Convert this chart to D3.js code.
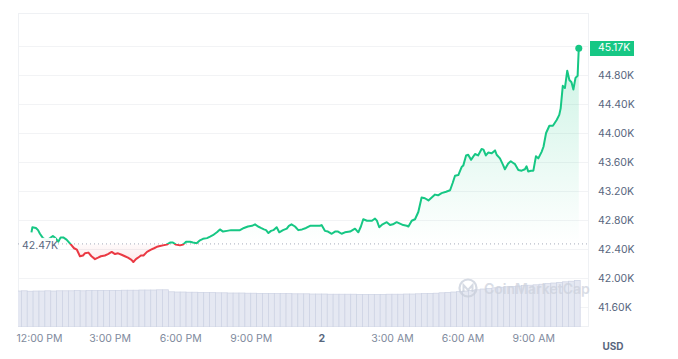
<!DOCTYPE html>
<html>
<head>
<meta charset="utf-8">
<script src="https://cdn.jsdelivr.net/npm/d3@7/dist/d3.min.js"></script>
<style>
  html, body { margin: 0; padding: 0; background: #fff; }
  svg { display: block; font-family: Inter, "Noto Sans", sans-serif; }
</style>
</head>
<body>
<svg id="chart" width="678" height="359"></svg>
<script>
// ---- DATA (hours after 12:00 PM, Jan 1 2024; price in thousands USD) ----
const hours = [-0.32,-0.28,-0.13,-0.04,0.04,0.17,0.34,0.47,0.59,0.70,0.82,0.92,1.03,1.17,1.36,1.49,1.61,1.74,1.87,1.95,2.10,2.23,2.38,2.51,2.63,2.80,2.93,3.09,3.23,3.36,3.51,3.65,3.78,3.93,4.01,4.12,4.21,4.33,4.44,4.59,4.76,4.89,5.01,5.14,5.27,5.43,5.57,5.69,5.82,5.99,6.12,6.25,6.42,6.54,6.70,6.84,6.97,7.14,7.27,7.39,7.56,7.69,7.82,7.99,8.16,8.37,8.54,8.71,8.88,9.05,9.18,9.31,9.43,9.56,9.65,9.75,9.86,9.96,10.10,10.21,10.37,10.53,10.62,10.73,10.88,11.02,11.18,11.35,11.52,11.73,11.94,12.01,12.15,12.28,12.44,12.58,12.71,12.86,13.00,13.22,13.43,13.57,13.68,13.78,13.94,14.15,14.28,14.36,14.46,14.60,14.78,14.92,15.04,15.20,15.34,15.48,15.63,15.70,15.84,15.98,16.12,16.26,16.40,16.55,16.69,16.83,16.96,17.11,17.30,17.47,17.58,17.68,17.82,17.96,18.03,18.15,18.24,18.36,18.53,18.66,18.81,18.89,18.99,19.09,19.24,19.38,19.45,19.59,19.72,19.80,19.94,20.05,20.14,20.23,20.37,20.51,20.65,20.72,20.79,20.91,21.01,21.12,21.22,21.36,21.44,21.55,21.69,21.84,22.00,22.11,22.17,22.26,22.35,22.45,22.54,22.63,22.71,22.80,22.89,22.94];
const prices = [42.63,42.70,42.69,42.66,42.61,42.55,42.52,42.55,42.58,42.55,42.50,42.56,42.56,42.53,42.46,42.41,42.39,42.30,42.31,42.34,42.35,42.30,42.26,42.28,42.30,42.31,42.33,42.36,42.33,42.34,42.32,42.30,42.28,42.25,42.22,42.26,42.28,42.31,42.31,42.36,42.39,42.41,42.43,42.44,42.45,42.46,42.49,42.49,42.46,42.45,42.46,42.50,42.50,42.49,42.48,42.52,42.54,42.55,42.57,42.59,42.63,42.67,42.64,42.65,42.66,42.66,42.66,42.69,42.71,42.72,42.74,42.71,42.69,42.67,42.66,42.62,42.65,42.66,42.70,42.63,42.66,42.68,42.72,42.74,42.71,42.66,42.67,42.69,42.72,42.72,42.72,42.73,42.65,42.64,42.61,42.64,42.64,42.61,42.63,42.64,42.68,42.63,42.71,42.81,42.79,42.79,42.82,42.79,42.70,42.74,42.77,42.73,42.74,42.77,42.75,42.73,42.72,42.71,42.79,42.81,42.91,43.11,43.10,43.07,43.11,43.15,43.14,43.17,43.19,43.21,43.31,43.41,43.42,43.53,43.55,43.69,43.70,43.63,43.71,43.69,43.78,43.77,43.69,43.73,43.72,43.76,43.70,43.65,43.56,43.50,43.58,43.61,43.59,43.57,43.49,43.48,43.50,43.54,43.47,43.48,43.48,43.68,43.65,43.74,43.81,44.00,44.10,44.10,44.18,44.25,44.34,44.65,44.62,44.86,44.73,44.70,44.60,44.76,44.79,45.17];
const openPrice = 42.47;
// 15-minute volume buckets starting 11:00 AM (billions USD)
const volumeStartHour = -1;
const volumes = [18.0,18.1,17.9,18.0, 18.0,18.1,18.0,18.1, 18.1,18.1,18.2,18.1, 18.2,18.2,18.3,18.2,
  18.3,18.3,18.4,18.4, 18.4,18.5,18.5,18.5, 18.6,18.6,17.6,17.5, 17.5,17.4,17.4,17.3,
  17.2,17.2,17.1,17.1, 17.0,17.0,17.0,16.9, 16.9,16.8,16.8,16.8, 16.7,16.7,16.7,16.6,
  16.6,16.6,16.5,16.5, 16.5,16.4,16.4,16.4, 16.4,16.4,16.3,16.3, 16.3,16.3,16.3,16.4,
  16.4,16.4,16.5,16.5, 16.6,16.7,16.8,16.9, 17.1,17.3,17.5,17.7, 18.0,18.3,18.6,19.0,
  19.3,19.6,19.9,20.1, 20.3,20.5,20.7,20.9, 21.1,21.4,21.7,22.0, 22.3,22.6,22.9,23.3];
const yTicks = [41.6,42.0,42.4,42.8,43.2,43.6,44.0,44.4,44.8,45.2];
const yLabelTicks = [41.6,42.0,42.4,42.8,43.2,43.6,44.0,44.4,44.8];
const xTickHours = [0,3,6,9,12,15,18,21];
const xTickLabels = ["12:00 PM","3:00 PM","6:00 PM","9:00 PM","2","3:00 AM","6:00 AM","9:00 AM"];

// ---- SETUP ----
const base = new Date(2024,0,1,12,0,0);
const toDate = h => new Date(base.getTime() + h*3600e3);
const data = hours.map((h,i) => ({t: toDate(h), v: prices[i]}));

const L = 18, R = 589, T = 13, B = 327;
const svg = d3.select("#chart");
const x = d3.scaleTime().domain([toDate(-0.8925), toDate(23.374)]).range([L, R]);
const y = d3.scaleLinear().domain([41.324, 45.655]).range([B, T]);
const yv = d3.scaleLinear().domain([0, 25]).range([B, 277]);
const yBase = y(openPrice);

const defs = svg.append("defs");
defs.append("clipPath").attr("id","plot").append("rect").attr("x",L).attr("y",T).attr("width",R-L).attr("height",B-T);
defs.append("clipPath").attr("id","above").append("rect").attr("x",L).attr("y",T).attr("width",R-L).attr("height",yBase-T);
defs.append("clipPath").attr("id","below").append("rect").attr("x",L).attr("y",yBase).attr("width",R-L).attr("height",B-yBase);
const gg = defs.append("linearGradient").attr("id","gGreen").attr("gradientUnits","userSpaceOnUse")
  .attr("x1",0).attr("x2",0).attr("y1",y(45.2)).attr("y2",yBase);
gg.append("stop").attr("offset","0%").attr("stop-color","#16c784").attr("stop-opacity",0.22);
gg.append("stop").attr("offset","100%").attr("stop-color","#16c784").attr("stop-opacity",0.0);
const gr = defs.append("linearGradient").attr("id","gRed").attr("gradientUnits","userSpaceOnUse")
  .attr("x1",0).attr("x2",0).attr("y1",yBase).attr("y2",y(42.2));
gr.append("stop").attr("offset","0%").attr("stop-color","#ea3943").attr("stop-opacity",0.02);
gr.append("stop").attr("offset","100%").attr("stop-color","#ea3943").attr("stop-opacity",0.12);

// gridlines
svg.append("g").selectAll("line").data(yTicks).join("line")
  .attr("x1",L).attr("x2",R).attr("y1",d=>Math.round(y(d))+0.5).attr("y2",d=>Math.round(y(d))+0.5)
  .attr("stroke","#f2f3f5").attr("stroke-width",1);
// frame
svg.append("rect").attr("x",L+0.5).attr("y",T+0.5).attr("width",R-L-1).attr("height",B-T-1)
  .attr("fill","none").attr("stroke","#eff1f4").attr("stroke-width",1);

// volume bars
const step = 0.25;
svg.append("g").attr("clip-path","url(#plot)").selectAll("rect").data(volumes).join("rect")
  .attr("x", (d,i) => x(toDate(volumeStartHour + i*step)))
  .attr("width", (d,i) => x(toDate(volumeStartHour + (i+1)*step)) - x(toDate(volumeStartHour + i*step)))
  .attr("y", d => yv(d))
  .attr("height", d => B - yv(d))
  .attr("fill","#e5e8f2").attr("stroke","#ccd2e3").attr("stroke-width",0.7);

// watermark
const wm = svg.append("g").attr("opacity",0.75);
wm.append("circle").attr("cx",468).attr("cy",288).attr("r",8.5).attr("fill","none").attr("stroke","#c9cfdb").attr("stroke-width",2.2);
wm.append("path").attr("d","M463.5,292 L463.5,285 L468,290 L472.5,285 L472.5,292").attr("fill","none").attr("stroke","#c9cfdb").attr("stroke-width",2);
wm.append("text").attr("x",484).attr("y",293.5).attr("font-size",14).attr("font-weight",600)
  .attr("fill","#cdd2dd").text("CoinMarketCap");

// area fills
const area = d3.area().x(d=>x(d.t)).y0(yBase).y1(d=>y(d.v));
svg.append("path").datum(data).attr("d",area).attr("fill","url(#gGreen)").attr("clip-path","url(#above)");
svg.append("path").datum(data).attr("d",area).attr("fill","url(#gRed)").attr("clip-path","url(#below)");

// baseline
svg.append("line").attr("x1",L).attr("x2",R).attr("y1",yBase).attr("y2",yBase)
  .attr("stroke","#a6adbb").attr("stroke-width",1).attr("stroke-dasharray","1,3");

// lines
const line = d3.line().x(d=>x(d.t)).y(d=>y(d.v));
svg.append("path").datum(data).attr("d",line).attr("fill","none").attr("stroke","#16c784")
  .attr("stroke-width",2).attr("stroke-linejoin","round").attr("clip-path","url(#above)");
svg.append("path").datum(data).attr("d",line).attr("fill","none").attr("stroke","#ea3943")
  .attr("stroke-width",2).attr("stroke-linejoin","round").attr("clip-path","url(#below)");

// end dot
const last = data[data.length-1];
svg.append("circle").attr("cx",x(last.t)).attr("cy",y(last.v)).attr("r",3.5).attr("fill","#16c784");

// baseline label
svg.append("rect").attr("x",L+1).attr("y",yBase-6).attr("width",37).attr("height",13).attr("fill","#fff").attr("opacity",0.92);
svg.append("text").attr("x",22).attr("y",yBase+2).attr("dominant-baseline","middle")
  .attr("font-size",10.5).attr("fill","#58667e").text(openPrice.toFixed(2)+"K");

// y axis labels
const yAxis = d3.axisRight(y).tickValues(yLabelTicks).tickSize(0).tickPadding(0).tickFormat(d=>d3.format(".2f")(d)+"K");
const ya = svg.append("g").attr("transform",`translate(598,0)`).call(yAxis);
ya.select(".domain").remove();
ya.selectAll("text").attr("font-family","Inter, 'Noto Sans', sans-serif").attr("font-size",10.5).attr("fill","#58667e");

// price tag
const ty = y(last.v);
svg.append("rect").attr("x",590).attr("y",Math.round(ty)-7).attr("width",44).attr("height",15).attr("fill","#16c784");
svg.append("text").attr("x",598).attr("y",Math.round(ty)+0.5).attr("dominant-baseline","middle")
  .attr("font-size",10.5).attr("fill","#fff").text(last.v.toFixed(2)+"K");

// x axis labels
const xAxis = d3.axisBottom(x).tickValues(xTickHours.map(toDate)).tickSize(0).tickPadding(0)
  .tickFormat((d,i)=>xTickLabels[i]);
const xa = svg.append("g").attr("transform",`translate(0,335)`).call(xAxis);
xa.select(".domain").remove();
xa.selectAll("text").attr("font-family","Inter, 'Noto Sans', sans-serif").attr("font-size",10.5)
  .attr("dy","0.32em").attr("y",4)
  .attr("font-weight",(d,i)=>xTickLabels[i]==="2"?700:400)
  .attr("fill",(d,i)=>xTickLabels[i]==="2"?"#58667e":"#808a9d");

// USD
svg.append("text").attr("x",613).attr("y",347).attr("text-anchor","middle").attr("dominant-baseline","middle")
  .attr("font-size",10).attr("font-weight",700).attr("fill","#58667e").text("USD");
</script>
</body>
</html>
